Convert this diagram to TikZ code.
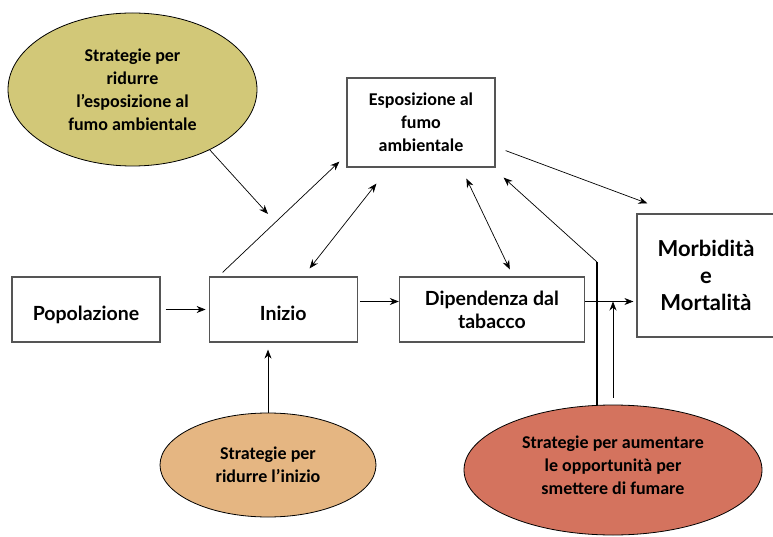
\documentclass[tikz,border=0pt]{standalone}
\usepackage{fontspec}
\setmainfont{Carlito}
\newfontfamily\gillfont{Lato}
\usetikzlibrary{positioning}
\usetikzlibrary{shapes.geometric, arrows.meta}
\definecolor{olivefill}{RGB}{210,200,120}
\definecolor{orangefill}{RGB}{229,182,130}
\definecolor{redfill}{RGB}{212,115,94}
\definecolor{boxline}{RGB}{85,85,85}
\tikzstyle{box} = [rectangle,
draw=boxline,
line width=1.2pt,
fill=white,
align=center,
inner sep=0pt]
\tikzstyle{arrow} = [line width=0.7pt,-{Stealth[length=9pt,width=7pt]}]
\tikzstyle{twoway} = [line width=0.7pt,{Stealth[length=9pt,width=7pt]}-{Stealth[length=9pt,width=7pt]}]

\begin{document}
\begin{tikzpicture}[x=1pt, y=1pt,
    strat/.style={ellipse, draw=black, line width=0.8pt, align=center, inner sep=0pt,
    font=\fontsize{18}{23}\selectfont\bfseries
    },
    stage/.style={box, minimum width=148, minimum height=65,
    font=\gillfont\fontsize{19.5}{23}\selectfont\bfseries
    },
    lowtext/.style={text height=26pt, text depth=4pt}
]
    \useasboundingbox (0,0) rectangle (773,536);

    \node[strat, fill=olivefill, minimum width=249, minimum height=153] (olive) at (132.5,446.5) {Strategie per\\ridurre\\l’esposizione al\\fumo ambientale};
    \node[strat, fill=orangefill, minimum width=216, minimum height=104] (orange) at (268,71) {Strategie per\\ridurre l’inizio};
    \node[strat, fill=redfill, minimum width=298, minimum height=130] (red) at (613,66) {};
    \node[align=center, font=\fontsize{18}{23}\selectfont\bfseries] (redtext) at ([yshift=5]red.center) {Strategie per aumentare\\le opportunità per\\smettere di fumare};

    \node[stage, lowtext] (pop) at (86,226.5) {Popolazione};
    \node[stage, lowtext] (ini) [right=48pt of pop] {Inizio};
    \node[stage, minimum width=185] (dip) [right=41pt of ini] {Dipendenza dal\\tabacco};

    \node[box, minimum width=148, minimum height=89, font=\fontsize{18}{23}\selectfont\bfseries] (esp) at (421,413.5) {Esposizione al\\fumo\\ambientale};
    \node[box, minimum width=138, minimum height=123, font=\gillfont\fontsize{22}{27}\selectfont\bfseries] (mor) at (706,260.5) {Morbidità\\e\\Mortalità};

    \coordinate (olivetip) at (268,322);
    \coordinate (bend) at (597,274);

    \draw[arrow, shorten <=5pt, shorten >=3pt] (pop) -- (ini);
    \draw[arrow, shorten <=2pt] ([yshift=8]ini.east) -- ([yshift=8]dip.west);
    \draw[arrow, shorten >=3pt] ([yshift=8]dip.east) -- ([yshift=8]dip.east -| mor.west);
    \draw[arrow, shorten >=7pt] (orange.north) -- (orange.north |- ini.south);
    \draw[arrow] (olive.-38) -- (olivetip);

    \draw[arrow] ([xshift=14, yshift=4]ini.north west) -- ([xshift=-7, yshift=6]esp.south west);
    \draw[twoway] ([xshift=101, yshift=8]ini.north west) -- ([xshift=30, yshift=-16]esp.south west);
    \draw[twoway] ([xshift=111, yshift=7]dip.north west) -- ([xshift=120, yshift=-11]esp.south west);
    \draw[arrow] ([xshift=10, yshift=17]esp.south east) -- ([xshift=11, yshift=10]mor.north west);

    % quitting strategies
    \draw[line width=2.5pt] (bend |- red.north) -- (bend);
    \draw[arrow] (bend) -- ([xshift=8, yshift=-10]esp.south east);
    \draw[arrow] ([yshift=7]red.north) -- ([yshift=8]dip.east -| red.north);
\end{tikzpicture}
\end{document}
